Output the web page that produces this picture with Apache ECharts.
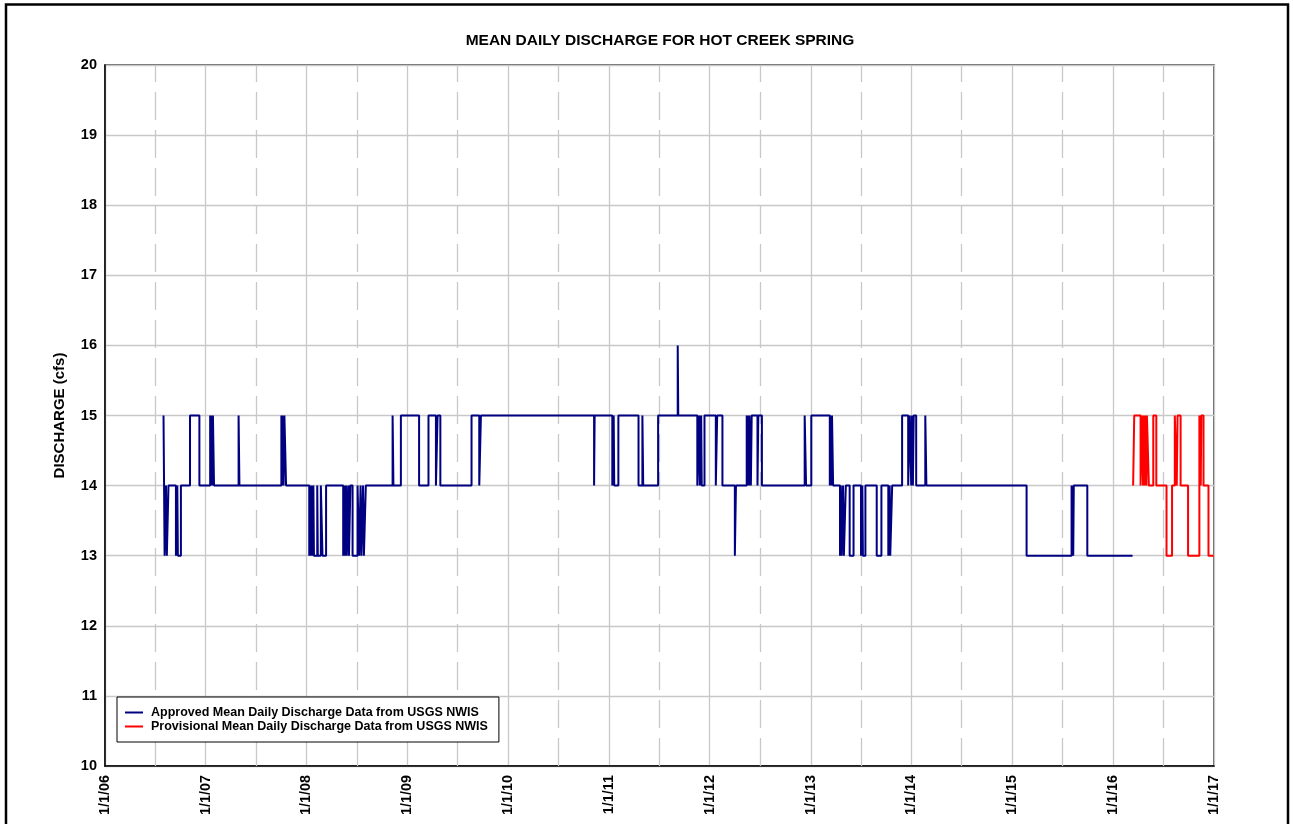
<!DOCTYPE html>
<html>
<head>
<meta charset="utf-8">
<title>Mean Daily Discharge for Hot Creek Spring</title>
<script src="https://cdn.jsdelivr.net/npm/echarts@6/dist/echarts.min.js"></script>
<style>
  html, body { margin: 0; padding: 0; background: #fff; }
  #chart { width: 1293px; height: 824px; }
</style>
</head>
<body>
<div id="chart"></div>
<script>
// Daily discharge is stored as change points: [date the value starts, cfs]
// Each value holds until the next change point.
const approvedSteps = [
  ['2006-08-01', 15],
  ['2006-08-05', 13], ['2006-08-10', 14], ['2006-08-13', 13], ['2006-08-19', 14],
  ['2006-09-15', 13], ['2006-09-20', 14], ['2006-09-22', 13], ['2006-10-03', 14],
  ['2006-11-05', 15], ['2006-12-09', 14],
  ['2007-01-17', 15], ['2007-01-19', 14], ['2007-01-22', 15], ['2007-01-24', 14], ['2007-01-27', 15], ['2007-01-31', 14],
  ['2007-04-30', 15], ['2007-05-03', 14],
  ['2007-10-02', 15], ['2007-10-05', 14], ['2007-10-08', 15], ['2007-10-10', 14], ['2007-10-13', 15], ['2007-10-19', 14],
  ['2008-01-11', 13], ['2008-01-14', 14], ['2008-01-16', 13], ['2008-01-20', 14], ['2008-01-22', 13], ['2008-01-26', 14],
  ['2008-01-28', 13], ['2008-02-09', 14], ['2008-02-11', 13], ['2008-02-22', 14], ['2008-02-28', 13], ['2008-03-12', 14],
  ['2008-05-13', 13], ['2008-05-17', 14], ['2008-05-19', 13], ['2008-05-24', 14], ['2008-05-26', 13], ['2008-06-01', 14],
  ['2008-06-03', 13], ['2008-06-08', 14], ['2008-06-16', 13], ['2008-07-04', 14], ['2008-07-10', 13], ['2008-07-15', 14],
  ['2008-07-18', 13], ['2008-07-24', 14], ['2008-07-27', 13], ['2008-08-03', 14],
  ['2008-11-08', 15], ['2008-11-11', 14],
  ['2008-12-08', 15], ['2009-02-12', 14],
  ['2009-03-18', 15], ['2009-04-14', 14], ['2009-04-20', 15], ['2009-04-30', 14],
  ['2009-08-21', 15], ['2009-09-18', 14], ['2009-09-24', 15],
  ['2010-11-08', 14], ['2010-11-10', 15],
  ['2011-01-13', 14], ['2011-01-18', 15], ['2011-01-20', 14], ['2011-02-04', 15],
  ['2011-04-18', 14], ['2011-05-02', 15], ['2011-05-05', 14],
  ['2011-06-28', 15], ['2011-09-07', 16], ['2011-09-09', 15],
  ['2011-11-17', 14], ['2011-11-24', 15], ['2011-11-26', 14], ['2011-12-01', 15], ['2011-12-03', 14],
  ['2011-12-13', 15], ['2012-01-23', 14], ['2012-01-28', 15],
  ['2012-02-16', 14], ['2012-04-01', 13], ['2012-04-05', 14],
  ['2012-05-14', 15], ['2012-05-17', 14], ['2012-05-20', 15], ['2012-05-22', 14], ['2012-05-24', 15], ['2012-05-29', 14],
  ['2012-06-01', 15], ['2012-06-22', 14], ['2012-06-25', 15], ['2012-07-08', 14],
  ['2012-12-10', 15], ['2012-12-15', 14],
  ['2013-01-03', 15], ['2013-03-11', 14], ['2013-03-14', 15], ['2013-03-16', 14], ['2013-03-19', 15], ['2013-03-23', 14],
  ['2013-04-17', 13], ['2013-04-20', 14], ['2013-04-23', 13], ['2013-04-28', 14], ['2013-05-01', 13], ['2013-05-08', 14],
  ['2013-05-22', 13], ['2013-06-05', 14],
  ['2013-07-02', 13], ['2013-07-07', 14], ['2013-07-09', 13], ['2013-07-18', 14],
  ['2013-08-28', 13], ['2013-09-14', 14],
  ['2013-10-09', 13], ['2013-10-14', 14], ['2013-10-16', 13], ['2013-10-23', 14],
  ['2013-11-28', 15], ['2013-12-20', 14], ['2013-12-26', 15], ['2013-12-31', 14],
  ['2014-01-03', 15], ['2014-01-06', 14], ['2014-01-09', 15], ['2014-01-18', 14],
  ['2014-02-20', 15], ['2014-02-24', 14],
  ['2015-02-22', 13],
  ['2015-08-04', 14], ['2015-08-06', 13], ['2015-08-08', 14], ['2015-08-10', 13], ['2015-08-12', 14],
  ['2015-09-30', 13], ['2016-03-12', 13]
];

const provisionalSteps = [
  ['2016-03-14', 14], ['2016-03-18', 15], ['2016-04-10', 14], ['2016-04-15', 15], ['2016-04-19', 14],
  ['2016-04-21', 15], ['2016-04-25', 14], ['2016-04-27', 15], ['2016-05-01', 14], ['2016-05-03', 15],
  ['2016-05-10', 14], ['2016-05-26', 15], ['2016-06-06', 14], ['2016-07-13', 13], ['2016-08-02', 14],
  ['2016-08-12', 15], ['2016-08-19', 14], ['2016-08-22', 15], ['2016-09-02', 14], ['2016-09-29', 13],
  ['2016-11-09', 15], ['2016-11-14', 14], ['2016-11-16', 15], ['2016-11-24', 14], ['2016-12-12', 13],
  ['2016-12-31', 13]
];

const seriesNames = [
  'Approved Mean Daily Discharge Data from USGS NWIS',
  'Provisional Mean Daily Discharge Data from USGS NWIS'
];

// Axis extents and tick labels
const xStart = '2006-01-01';
const xEnd = '2017-01-01';
const yMin = 10, yMax = 20, yStep = 1;
const yearTickLabels = ['1/1/06', '1/1/07', '1/1/08', '1/1/09', '1/1/10', '1/1/11',
                        '1/1/12', '1/1/13', '1/1/14', '1/1/15', '1/1/16', '1/1/17'];
// Mid-year reference lines (dashed)
const midYearDates = ['2006-07-02', '2007-07-02', '2008-07-02', '2009-07-02', '2010-07-02',
                      '2011-07-02', '2012-07-02', '2013-07-02', '2014-07-02', '2015-07-02', '2016-07-02'];

const FONT = '"Liberation Sans", Arial, sans-serif';
const chart = echarts.init(document.getElementById('chart'), null, { renderer: 'canvas' });

function toPoints(steps) {
  return steps.map(s => [s[0], s[1]]);
}

const option = {
  backgroundColor: '#ffffff',
  animation: false,
  textStyle: { fontFamily: FONT },
  title: {
    text: 'MEAN DAILY DISCHARGE FOR HOT CREEK SPRING',
    left: 655,
    top: 28,
    textAlign: 'center',
    textStyle: { fontFamily: FONT, fontWeight: 'bold', fontSize: 15.5, color: '#000' }
  },
  graphic: [{
    type: 'rect',
    shape: { x: 6, y: 4.5, width: 1282, height: 840 },
    style: { fill: 'none', stroke: '#000', lineWidth: 2.5 },
    silent: true,
    z: 100
  }],
  legend: {
    orient: 'vertical',
    left: 117,
    top: 697,
    padding: [9, 11, 9, 8],
    itemGap: 1,
    itemWidth: 18,
    itemHeight: 2,
    icon: 'rect',
    backgroundColor: '#fff',
    borderColor: '#000',
    borderWidth: 1,
    data: seriesNames,
    textStyle: { fontFamily: FONT, fontWeight: 'bold', fontSize: 12.5, color: '#000', padding: [0, 0, 0, 3] },
    z: 10
  },
  grid: {
    left: 105,
    right: 79,
    top: 65,
    bottom: 58,
    show: true,
    borderColor: '#333',
    borderWidth: 1.5,
    backgroundColor: '#fff'
  },
  xAxis: {
    type: 'time',
    min: xStart,
    max: xEnd,
    splitNumber: 11,
    minInterval: 365 * 24 * 3600 * 1000,
    axisLine: { show: true, lineStyle: { color: '#000', width: 1.5 } },
    axisTick: { show: false },
    axisLabel: {
      rotate: 90,
      margin: 9,
      fontFamily: FONT,
      fontWeight: 'bold',
      fontSize: 14.4,
      color: '#000',
      hideOverlap: false,
      showMinLabel: true,
      showMaxLabel: true,
      formatter: function (value) {
        const d = new Date(value);
        const idx = d.getFullYear() - 2006;
        return yearTickLabels[idx] !== undefined ? yearTickLabels[idx] : '';
      }
    },
    splitLine: { show: true, lineStyle: { color: '#c8c8c8', width: 1.3 } }
  },
  yAxis: {
    type: 'value',
    min: yMin,
    max: yMax,
    interval: yStep,
    name: 'DISCHARGE (cfs)',
    nameLocation: 'middle',
    nameGap: 38,
    nameRotate: 90,
    nameTextStyle: { fontFamily: FONT, fontWeight: 'bold', fontSize: 15, color: '#000' },
    axisLine: { show: true, lineStyle: { color: '#000', width: 1.5 } },
    axisTick: { show: false },
    axisLabel: { fontFamily: FONT, fontWeight: 'bold', fontSize: 14.5, color: '#000', margin: 8 },
    splitLine: { show: true, lineStyle: { color: '#c8c8c8', width: 1.3 } }
  },
  series: [
    {
      name: seriesNames[0],
      type: 'line',
      step: 'end',
      showSymbol: false,
      symbol: 'none',
      color: '#000080',
      lineStyle: { color: '#000080', width: 2 },
      data: toPoints(approvedSteps),
      z: 5,
      markLine: {
        silent: true,
        symbol: 'none',
        label: { show: false },
        lineStyle: { color: '#c8c8c8', width: 1.3, type: [28, 10] },
        data: midYearDates.map(d => ({ xAxis: d })),
        z: 1
      }
    },
    {
      name: seriesNames[1],
      type: 'line',
      step: 'end',
      showSymbol: false,
      symbol: 'none',
      color: '#ff0000',
      lineStyle: { color: '#ff0000', width: 2 },
      data: toPoints(provisionalSteps),
      z: 5
    }
  ]
};

chart.setOption(option);
</script>
</body>
</html>
